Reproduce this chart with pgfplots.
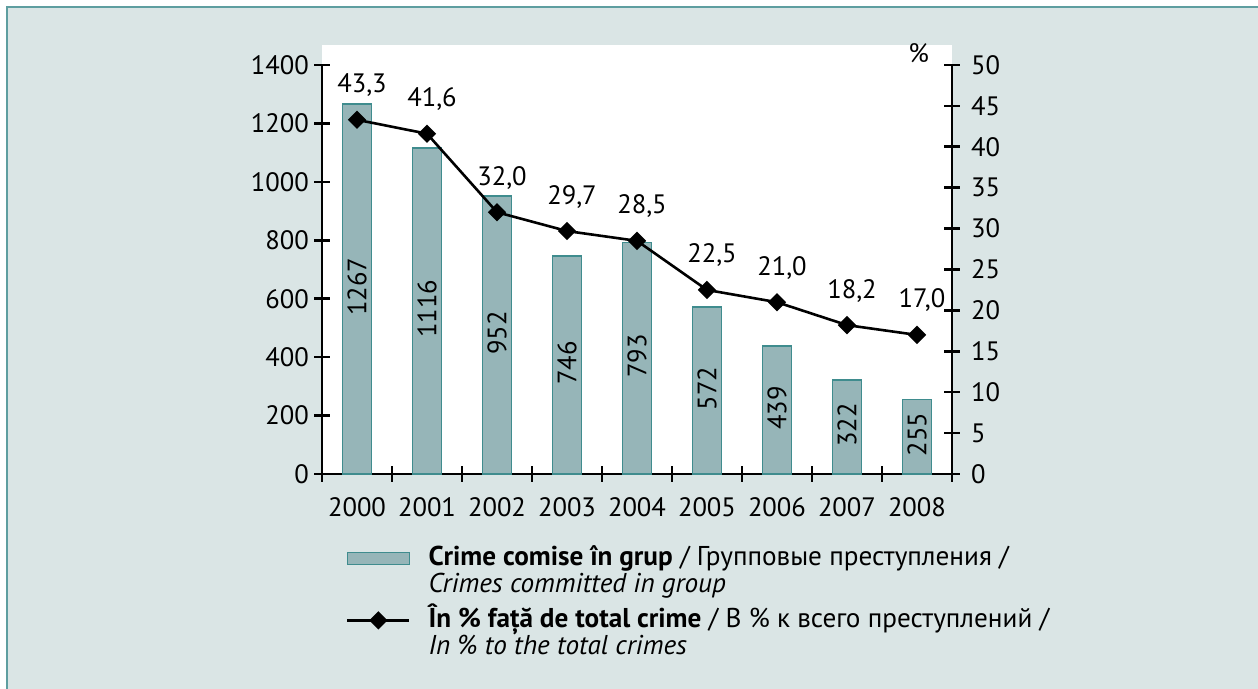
\documentclass[border=0pt]{standalone}
\usepackage{pgfplots}
\pgfplotsset{compat=1.18}
\usepackage{fontspec}
\setmainfont{PT Sans}
\definecolor{bg}{HTML}{DAE5E5}
\definecolor{framec}{HTML}{5E9EA0}
\definecolor{barfill}{HTML}{96B5B8}
\definecolor{baredge}{HTML}{3F8C8E}
\newcommand\fs{\fontsize{13.3}{15}\selectfont}
\pgfplotsset{
  common/.style={
    at={(161pt,107.5pt)}, anchor=south west,
    scale only axis, width=315pt, height=204.5pt,
    xmin=-0.5, xmax=8.5, clip=false,
    axis line style={line width=1.3pt, -},
    tick style={line width=1.3pt, black},
    tick align=center, major tick length=8pt,
    /pgf/number format/assume math mode=true,
    /pgf/number format/1000 sep={},
    tick label style={font=\fs},
  }
}
\begin{document}
\begin{tikzpicture}
\useasboundingbox (0,0) rectangle (629pt,344.5pt);
\fill[white] (0,0) rectangle (629pt,344.5pt);
\fill[bg] (3.5pt,0) rectangle (640pt,341pt);
\draw[framec, line width=1pt] (3.5pt,-5pt) -- (3.5pt,341pt) -- (640pt,341pt);
\fill[white] (161pt,107.5pt) rectangle (476pt,322pt);

\begin{axis}[common,
  ymin=0, ymax=1400,
  axis x line*=bottom, axis y line*=left,
  xtick={-0.5,0.5,1.5,2.5,3.5,4.5,5.5,6.5,7.5,8.5},
  xticklabels={2000,2001,2002,2003,2004,2005,2006,2007,2008},
  x tick label as interval,
  xticklabel style={yshift=-4.5pt},
  ytick={0,200,...,1400},
  yticklabel style={xshift=1pt},
]
\addplot[ybar, bar width=14.5pt, fill=barfill, draw=baredge, line width=0.8pt,
  nodes near coords,
  visualization depends on={rawy \as \barval},
  every node near coord/.append style={font=\fs, black,
     anchor=center, yshift={-0.0730357pt*\barval+1pt}, rotate=90},
] coordinates {(0,1267) (1,1116) (2,952) (3,746) (4,793) (5,572) (6,439) (7,322) (8,255)};
\end{axis}

\begin{axis}[common,
  ymin=0, ymax=50,
  axis x line=none, axis y line*=right,
  ytick={0,5,...,50},
  yticklabel style={xshift=2pt},
  legend style={at={(0.028,-0.155)}, anchor=north west, draw=none, fill=none,
    font=\fontsize{13.6}{13}\selectfont, row sep=13.5pt,
    cells={anchor=base west},
    /tikz/every odd column/.append style={column sep=7pt}},
]
\addlegendimage{legend image code/.code={\draw[fill=barfill, draw=baredge, line width=0.8pt] (0pt,0.5pt) rectangle (31pt,6.5pt);}}
\addlegendentry{\begin{tabular}[t]{@{}l@{}}\textbf{Crime comise în grup} / Групповые преступления /\\ \textit{Crimes committed in group}\end{tabular}}
\addplot[black, line width=1.3pt, mark=square*, mark size=2.6pt, mark options={rotate=45, fill=black},
  legend image code/.code={\draw[black, line width=1.3pt, mark=square*, mark size=2.6pt, mark options={rotate=45, fill=black}, mark repeat=2, mark phase=2] plot coordinates {(0pt,3.5pt) (15.5pt,3.5pt) (31pt,3.5pt)};},
  nodes near coords={\pgfmathprintnumber[fixed, fixed zerofill, precision=1, use comma]{\pgfplotspointmeta}},
  every node near coord/.append style={font=\fs, black, anchor=base, yshift=13.5pt, xshift=2.5pt},
] coordinates {(0,43.3) (1,41.6) (2,32.0) (3,29.7) (4,28.5) (5,22.5) (6,21.0) (7,18.2) (8,17.0)};
\addlegendentry{\begin{tabular}[t]{@{}l@{}}\textbf{În \% față de total crime} / В \% к всего преступлений /\\ \textit{In \% to the total crimes}\end{tabular}}
\node[anchor=base east, font=\fs] at ([xshift=-8pt, yshift=1pt]rel axis cs:1,1) {\%};
\end{axis}
\end{tikzpicture}
\end{document}
